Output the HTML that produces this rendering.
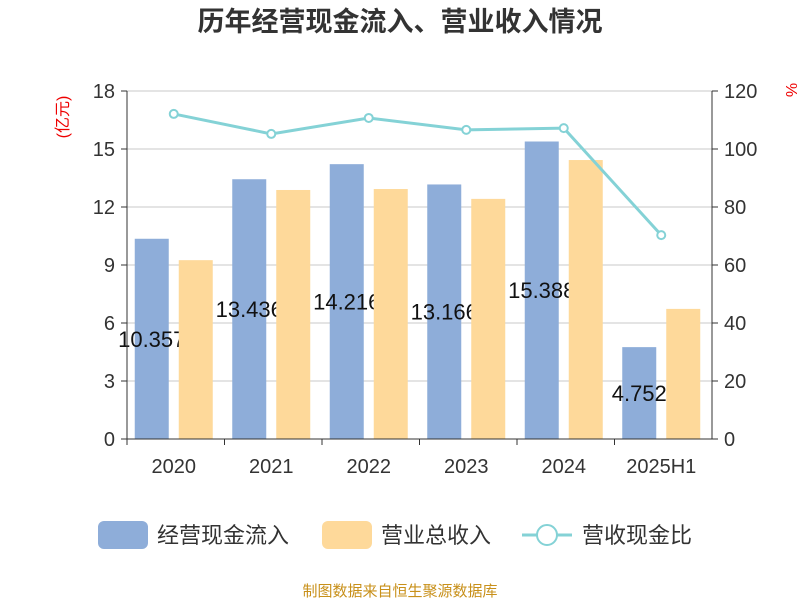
<!DOCTYPE html>
<html><head><meta charset="utf-8"><style>
body{margin:0;background:#fff;}
svg text{font-family:"Liberation Sans","Noto Sans CJK SC",sans-serif;}
</style></head><body>
<svg id="c" width="800" height="600" xmlns="http://www.w3.org/2000/svg">
<text x="400" y="31" text-anchor="middle" font-size="27" font-weight="bold" fill="#333">历年经营现金流入、营业收入情况</text>
<g id="grid"></g><g id="blue"></g><g id="labels"></g><g id="orange"></g><g id="line"></g><g id="axes"></g>
<text x="68" y="117" font-size="16" fill="#e00" transform="rotate(-90 68 117)" text-anchor="middle">(亿元)</text>
<text x="786" y="90" font-size="16" fill="#e00" transform="rotate(90 786 90)" text-anchor="middle">%</text>
<g>
<rect x="98" y="521" width="50" height="28" rx="6" fill="#8eadd9"/>
<text x="157" y="543" font-size="22" fill="#333">经营现金流入</text>
<rect x="322" y="521" width="50" height="28" rx="6" fill="#fed99a"/>
<text x="381" y="543" font-size="22" fill="#333">营业总收入</text>
<line x1="522" y1="535" x2="572" y2="535" stroke="#84d2d6" stroke-width="3"/>
<circle cx="547" cy="535" r="10" fill="#fff" stroke="#84d2d6" stroke-width="2"/>
<text x="582" y="543" font-size="22" fill="#333">营收现金比</text>
</g>
<text x="400" y="596" text-anchor="middle" font-size="15" fill="#c8901a">制图数据来自恒生聚源数据库</text>
</svg>
<script>
const categories=["2020","2021","2022","2023","2024","2025H1"];
const cashIn=[10.357,13.436,14.216,13.166,15.388,4.752];
const revenue=[9.25,12.88,12.93,12.42,14.43,6.73];
const ratio=[112.1,105.2,110.7,106.6,107.2,70.3];
const leftTicks=[0,3,6,9,12,15,18];
const rightTicks=[0,20,40,60,80,100,120];
const NS="http://www.w3.org/2000/svg";
const X0=127,X1=712,Y0=439,Y1=91;
const bw=(X1-X0)/categories.length;
const yL=v=>Y0-(v/18)*(Y0-Y1);
const yR=v=>Y0-(v/120)*(Y0-Y1);
const xc=i=>X0+bw*(i+0.5);
function mk(t,a,p){const e=document.createElementNS(NS,t);for(const k in a)e.setAttribute(k,a[k]);p.appendChild(e);return e;}
const grid=document.getElementById('grid'),axes=document.getElementById('axes');
leftTicks.forEach((v,i)=>{
 const g=mk('line',{x1:X0,x2:X1,y1:yL(v),y2:yL(v),stroke:'#c8c8c8','stroke-width':1},grid);
 
 
 const t=mk('text',{x:X0-12,y:yL(v)+7,'text-anchor':'end','font-size':20,fill:'#333'},axes);t.textContent=v;
 
 
 const r=mk('text',{x:X1+12,y:yR(rightTicks[i])+7,'font-size':20,fill:'#333'},axes);r.textContent=rightTicks[i];
 
 
 mk('line',{x1:X0-6,x2:X0,y1:yL(v),y2:yL(v),stroke:'#333'},axes);
 mk('line',{x1:X1,x2:X1+6,y1:yL(v),y2:yL(v),stroke:'#333'},axes);
});
mk('line',{x1:X0,x2:X0,y1:Y1,y2:Y0,stroke:'#333'},axes);
mk('line',{x1:X1,x2:X1,y1:Y1,y2:Y0,stroke:'#333'},axes);
mk('line',{x1:X0,x2:X1,y1:Y0,y2:Y0,stroke:'#333'},axes);
const B=document.getElementById('blue'),L=document.getElementById('labels'),O=document.getElementById('orange'),LN=document.getElementById('line');
categories.forEach((c,i)=>{
 mk('line',{x1:X0+bw*i,x2:X0+bw*i,y1:Y0,y2:Y0+6,stroke:'#333'},axes);
 const t=mk('text',{x:xc(i)-2,y:Y0+34,'text-anchor':'middle','font-size':20,fill:'#333'},axes);t.textContent=c;
 
 
 const b=mk('rect',{x:xc(i)-41,y:yL(cashIn[i]),width:34,height:Y0-yL(cashIn[i]),fill:'#8eadd9'},B);
 
 
 const lb=mk('text',{x:xc(i)-24,y:(yL(cashIn[i])+Y0)/2+8,'text-anchor':'middle','font-size':22,fill:'#111'},L);lb.textContent=cashIn[i].toFixed(3);
 
 
 const o=mk('rect',{x:xc(i)+3,y:yL(revenue[i]),width:34,height:Y0-yL(revenue[i]),fill:'#fed99a'},O);
 
 
});
const pl=mk('polyline',{points:ratio.map((v,i)=>(xc(i)-2)+','+yR(v)).join(' '),fill:'none',stroke:'#84d2d6','stroke-width':3},LN);


ratio.forEach((v,i)=>{
 const p=mk('circle',{cx:xc(i)-2,cy:yR(v),r:4,fill:'#fff',stroke:'#84d2d6','stroke-width':2},LN);
 
 
});
</script>
</body></html>
